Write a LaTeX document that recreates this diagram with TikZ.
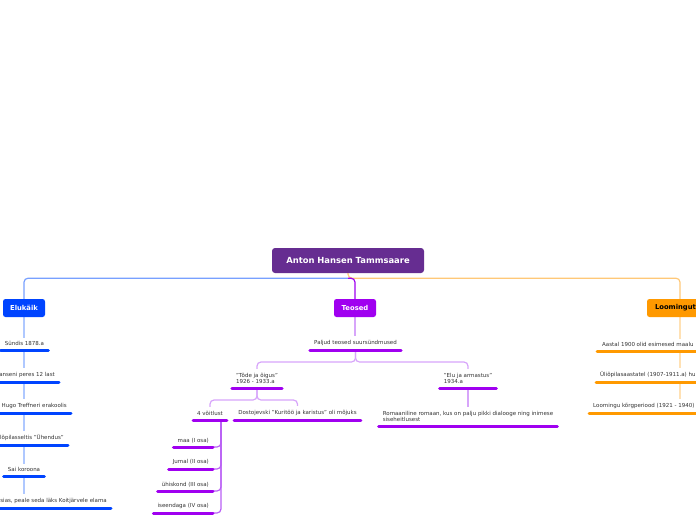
\documentclass[tikz,border=0pt]{standalone}
\usepackage{fontspec}
\setmainfont{DejaVu Sans}
\usetikzlibrary{positioning, calc, backgrounds}

\definecolor{rootpurple}{RGB}{102,45,145}
\definecolor{elublue}{RGB}{0,68,255}
\definecolor{elulink}{RGB}{120,160,255}
\definecolor{elucol}{RGB}{175,200,255}
\definecolor{teoviolet}{RGB}{160,0,240}
\definecolor{teolink}{RGB}{215,165,250}
\definecolor{teomid}{RGB}{185,95,245}
\definecolor{loomorange}{RGB}{255,153,0}
\definecolor{loomlink}{RGB}{255,200,120}
\definecolor{loomcol}{RGB}{255,225,180}
\definecolor{textgray}{RGB}{51,51,51}

\tikzset{
  root/.style={fill=rootpurple, text=white, rounded corners=3pt, inner sep=0pt,
    minimum width=152pt, minimum height=25pt, font=\fontsize{8.4}{10}\selectfont\bfseries},
  mainbox/.style={rounded corners=2.5pt, inner sep=0pt, minimum height=18pt,
    font=\fontsize{6.8}{8}\selectfont\bfseries},
  item/.style={fill=white, text=textgray, inner xsep=4pt, inner ysep=4pt, align=left,
    font=\fontsize{5.5}{6.3}\selectfont},
  bar/.style={line width=3pt, line cap=round},
  link/.style={line width=1.2pt, rounded corners=4pt},
}

\begin{document}
\begin{tikzpicture}[x=1pt, y=-1pt]
  \useasboundingbox (0,0) rectangle (696,520);
  \clip (0,0) rectangle (696,520);

  % root and main topics
  \node[root] (root) at (348,260.5) {Anton Hansen Tammsaare};
  \node[mainbox, fill=elublue, text=white, minimum width=42pt] (elukaik) at (24,308) {Elukäik};
  \node[mainbox, fill=teoviolet, text=white, minimum width=42pt] (teosed) at (355,308) {Teosed};
  \node[mainbox, fill=loomorange, text=black, inner xsep=8pt, text width=50pt, align=left] (loom) at (680,308) {Loomingut};

  % Elukaik items
  \foreach \n/\x/\y/\anc/\txt in {
      1/24.5/350/south/{Sündis 1878.a},
      2/59/382/south east/{anseni peres 12 last},
      3/71/413/south east/{Hugo Treffneri erakoolis},
      4/68/445/south east/{lõpilasseltis "Ühendus"},
      5/24/476/south/{Sai koroona},
      6/111/508/south east/{sias, peale seda läks Koitjärvele elama}} {
    \node[item, anchor=\anc] (e\n) at (\x,\y) {\txt};
    \draw[bar, elublue] (e\n.south west) -- (e\n.south east);
  }

  % Teosed items
  \node[item, anchor=south] (paljud) at (355.5,350) {Paljud teosed suursündmused};
  \node[item, anchor=south] (tode) at (257,388) {"Tõde ja õigus"\\1926 - 1933.a};
  \node[item, anchor=south] (elu) at (468,388) {"Elu ja armastus"\\1934.a};
  \node[item, anchor=south] (voitlus) at (210,420) {4 võitlust};
  \node[item, anchor=south] (dosto) at (297.5,420) {Dostojevski "Kuritöö ja karistus" oli mõjuks};
  \node[item, anchor=south] (roman) at (468,426) {Romaaniline romaan, kus on palju pikki dialooge ning inimese\\siseheitlusest};
  \foreach \n/\y/\txt in {1/447/{maa (I osa)}, 2/469/{Jumal (II osa)},
      3/491/{ühiskond (III osa)}, 4/513/{iseendaga (IV osa)}} {
    \node[item, anchor=south east] (v\n) at (213,\y) {\txt};
    \draw[bar, teoviolet] (v\n.south west) -- (v\n.south east);
  }
  \foreach \nd in {paljud, tode, elu, voitlus, dosto, roman}
    \draw[bar, teoviolet] (\nd.south west) -- (\nd.south east);

  % Loomingut items
  \node[item, anchor=south west, inner xsep=5pt] (o1) at (597,351) {Aastal 1900 olid esimesed maalu};
  \node[item, anchor=south west] (o2) at (596,382) {Üliõpilasaastatel (1907-1911.a) hu};
  \node[item, anchor=south west] (o3) at (589,413) {Loomingu kõrgperiood (1921 - 1940)};
  \foreach \nd in {o1, o2, o3}
    \draw[bar, loomorange] (\nd.south west) -- (\nd.south west -| loom.east);

  % connectors
  \begin{scope}[on background layer]
    \draw[link, elulink] (root.south) ++(0,5) -| (elukaik.north);
    \draw[link, loomlink] (root.south) -- ++(0,5) -| (loom.north);
    \draw[link, teoviolet] (root.south) ++(0,5) -| (teosed.north);
    \draw[link, elucol] (elukaik.south) -- (elukaik.south |- e6.north);
    \draw[link, loomcol] (loom.south) -- (loom.south |- o3.north);
    \draw[link, teolink] (teosed.south) -- (teosed.south |- paljud.north);
    \draw[link, teolink] (paljud.south) -- ++(0,12) -| (tode.north);
    \draw[link, teolink] (paljud.south) -- ++(0,12) -| (elu.north);
    \draw[link, teolink] (tode.south) -- ++(0,12) -| (voitlus.north);
    \draw[link, teolink] (tode.south) -- ++(0,12) -| (dosto.north);
    \draw[link, teolink] (elu.south) -- (elu.south |- roman.north);
    \foreach \n in {1,...,4}
      \draw[link, teomid] ($(voitlus.south east)+(-6,0)$) |- (v\n.south east);
  \end{scope}
\end{tikzpicture}
\end{document}
